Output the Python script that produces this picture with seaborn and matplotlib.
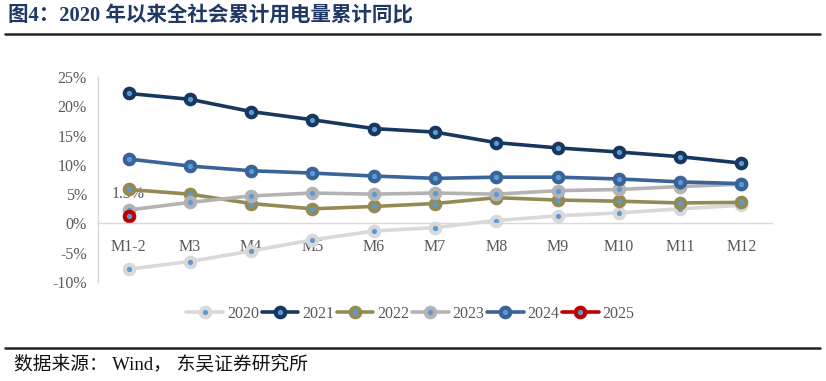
import matplotlib
matplotlib.use("Agg")
import matplotlib.pyplot as plt
import matplotlib.lines as mlines
import numpy as np
import pandas as pd
import seaborn as sns

# cumulative YoY growth of total electricity consumption (%)
months = ['M1-2', 'M3', 'M4', 'M5', 'M6', 'M7', 'M8', 'M9', 'M10', 'M11', 'M12']
y2020 = [-7.8, -6.5, -4.7, -2.8, -1.3, -0.7, 0.5, 1.3, 1.8, 2.5, 3.1]
y2021 = [22.2, 21.2, 19.1, 17.7, 16.2, 15.6, 13.8, 12.9, 12.2, 11.4, 10.3]
y2022 = [5.8, 5.0, 3.4, 2.5, 2.9, 3.4, 4.4, 4.0, 3.8, 3.5, 3.6]
y2023 = [2.3, 3.6, 4.7, 5.2, 5.0, 5.2, 5.0, 5.6, 5.8, 6.3, 6.7]
y2024 = [11.0, 9.8, 9.0, 8.6, 8.1, 7.7, 7.9, 7.9, 7.6, 7.1, 6.8]
y2025 = [1.3]

series = {'2020': y2020, '2021': y2021, '2022': y2022,
          '2023': y2023, '2024': y2024, '2025': y2025}
colors = {'2020': '#d9d9d9', '2021': '#17375e', '2022': '#948a54',
          '2023': '#b3b3b3', '2024': '#3a6399', '2025': '#c00000'}
dot_color = '#5b9bd5'

sns.set_style('white')
plt.rcParams['font.family'] = ['Liberation Serif', 'Noto Sans CJK SC', 'DejaVu Sans']

fig = plt.figure(figsize=(8.26, 3.81), dpi=100)
ax = fig.add_axes([0.1186, 0.2598, 0.816, 0.538])

# build a long table for plotting
rows = []
for year, vals in series.items():
    for m, v in zip(months, vals):
        rows.append({'month': m, 'value': v, 'year': year})
df = pd.DataFrame(rows)
df['pos'] = df['month'].map({m: i for i, m in enumerate(months)})

mk = dict(marker='o', markersize=6.8, markeredgewidth=3.0, markerfacecolor=dot_color)
handles = []
for year in series:
    sub = df[df['year'] == year]
    c = colors[year]
    sns.lineplot(data=sub, x='pos', y='value', ax=ax, color=c, lw=2.6,
                 markeredgecolor=c, legend=False, **mk)
    handles.append(mlines.Line2D([], [], color=c, lw=2.6, markeredgecolor=c,
                                 label=year, **mk))

# data label for 2025
ax.annotate('1.3%', xy=(0, y2025[0]), xytext=(0, 16), textcoords='offset points',
            ha='center', va='center', fontsize=11.5, color='#595959', zorder=0)

ax.set_xlim(-0.5, len(months) - 0.5)
ax.set_ylim(-10, 25)
ax.set_yticks(np.arange(-10, 26, 5))
ax.set_yticklabels([f'{v}%' for v in range(-10, 26, 5)])
ax.set_xticks(range(len(months)))
ax.set_xticklabels(months)
ax.set_xlabel('')
ax.set_ylabel('')

for s in ['top', 'right']:
    ax.spines[s].set_visible(False)
ax.spines['bottom'].set_position(('data', 0))
ax.spines['bottom'].set_color('#d9d9d9')
ax.spines['left'].set_color('#d9d9d9')
ax.spines['bottom'].set_linewidth(1.0)
ax.spines['left'].set_linewidth(1.0)
ax.tick_params(axis='both', length=0, labelsize=11.5, labelcolor='#595959')
ax.tick_params(axis='x', pad=11)
ax.tick_params(axis='y', pad=8)

fig.legend(handles=handles, loc='center', bbox_to_anchor=(0.497, 0.176), ncol=6,
           frameon=False, fontsize=11.5, handlelength=2.3, handletextpad=0.25,
           columnspacing=0.15, labelcolor='#595959')

# header / footer
fig.text(8 / 826, 1 - 16 / 381, '图4：2020 年以来全社会累计用电量累计同比', fontsize=14.8,
         fontweight='bold', color='#1f3864', va='center', ha='left')
fig.add_artist(mlines.Line2D([5 / 826, 820 / 826], [1 - 34 / 381] * 2, color='#222222', lw=1.8))
fig.add_artist(mlines.Line2D([5 / 826, 820 / 826], [1 - 348 / 381] * 2, color='#222222', lw=1.8))
fig.text(14 / 826, 1 - 365 / 381, '数据来源： Wind， 东吴证券研究所', fontsize=13.5,
         color='#111111', va='center', ha='left')

fig.savefig('out.png', dpi=100)
